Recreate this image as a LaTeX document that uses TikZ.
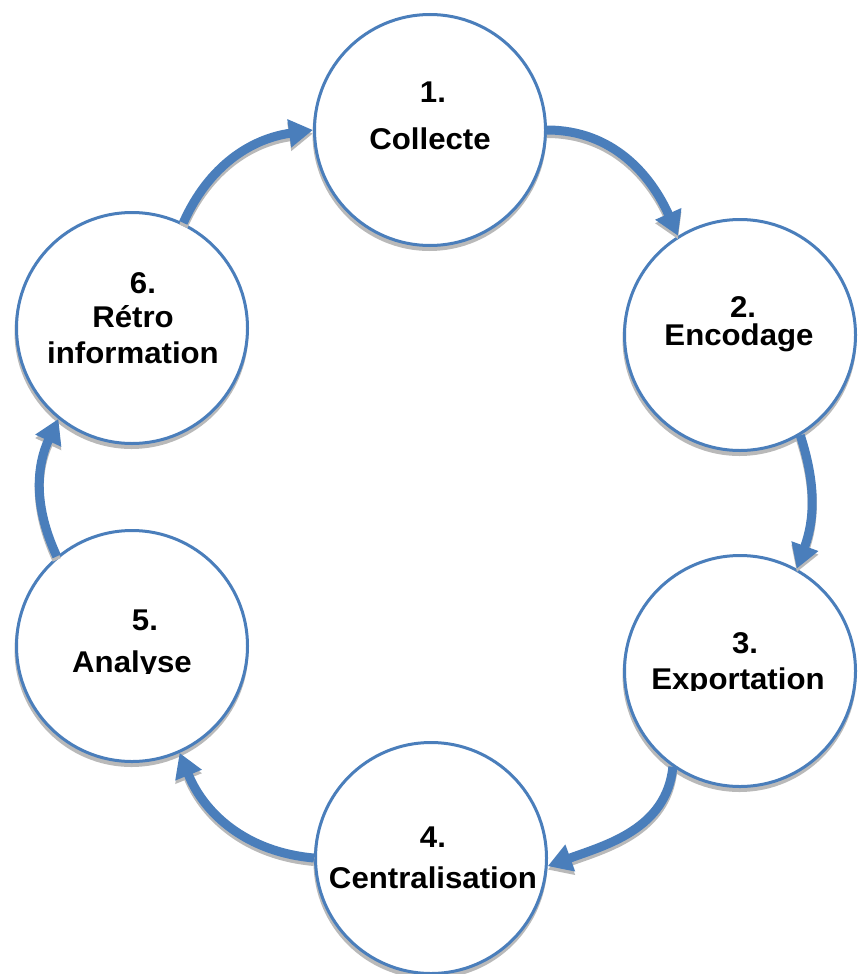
\documentclass[tikz,border=0pt]{standalone}
\usepackage{fontspec}
\newfontfamily\stepfont[FakeStretch=1.04]{Liberation Sans}
\usetikzlibrary{arrows.meta,shadows}
\definecolor{ringblue}{RGB}{74,126,187}
\definecolor{shade}{RGB}{185,185,185}

\begin{document}
\begin{tikzpicture}[x=1pt,y=1pt,
  stage/.style={circle, draw=ringblue, line width=3pt, fill=white,
    minimum size=231pt, inner sep=0pt,
    drop shadow={shadow xshift=-0.5pt, shadow yshift=-4pt, fill=shade, draw=shade, line width=3pt, opacity=1}},
  caption/.style={font=\stepfont\bfseries\fontsize{30}{36}\selectfont,
    anchor=base, inner sep=0pt},
  flow/.style={draw=ringblue, line width=9pt,
    -{Triangle[width=27pt,length=24pt]}},
  flowshadow/.style={flow, draw=shade,
    transform canvas={shift={(0pt,-3.5pt)}}}]

\useasboundingbox (0,0) rectangle (861,-974);

% the six stages of the cycle
\node[stage] (c1) at (430,-130) {};
\node[stage] (c2) at (740,-335) {};
\node[stage] (c3) at (740,-671) {};
\node[stage] (c4) at (431,-858) {};
\node[stage] (c5) at (132,-646) {};
\node[stage] (c6) at (132,-328) {};

% stage captions
\node[caption] (n1) at (433,-102) {1.};
\node[caption] (t1) at (430,-149) {Collecte};
\node[caption] (n2) at (743,-317) {2.};
\node[caption] (t2) at (739,-345) {Encodage};
\node[caption] (n3) at (745,-653) {3.};
\begin{scope}
  \clip (600,-600) rectangle (860,-690);
  \node[caption] (t3) at (738,-689) {Exportation};
\end{scope}
\node[caption] (n4) at (433,-847) {4.};
\node[caption] (t4) at (433,-888) {Centralisation};
\node[caption] (n5) at (145,-630) {5.};
\begin{scope}
  \clip (20,-600) rectangle (250,-673);
  \node[caption] (t5) at (132,-672) {Analyse};
\end{scope}
\node[caption] (n6) at (143,-293) {6.};
\node[caption] (t6) at (133,-327) {Rétro};
\node[caption] (u6) at (133,-363) {information};

% curved arrows between consecutive stages
\foreach \a/\o/\b/\i in {c1.0/0/c2.122/114, c2.-59/-72/c3.61/70,
    c3.-125/-96/c4.-4/20, c4.180/175/c5.-66/-68,
    c5.130/115/c6.-129/-115, c6.64/66/c1.180/188} {
  \draw[flowshadow] (\a) to[out=\o,in=\i] (\b);
  \draw[flow] (\a) to[out=\o,in=\i] (\b);
}
\end{tikzpicture}
\end{document}
